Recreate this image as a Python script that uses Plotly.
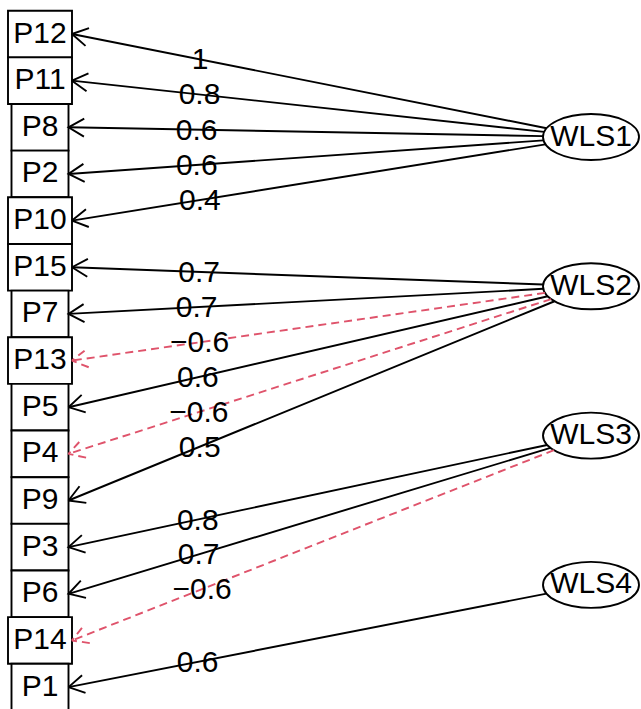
import numpy as np
import plotly.graph_objects as go

# ---- data ----
variables = ["P12", "P11", "P8", "P2", "P10", "P15", "P7", "P13", "P5", "P4",
             "P9", "P3", "P6", "P14", "P1"]
factors = ["WLS1", "WLS2", "WLS3", "WLS4"]
var_factor = [0, 0, 0, 0, 0, 1, 1, 1, 1, 1, 1, 2, 2, 2, 3]
loadings = [1, 0.8, 0.6, 0.6, 0.4, 0.7, 0.7, -0.6, 0.6, -0.6, 0.5, 0.8, 0.7, -0.6, 0.6]

# ---- layout constants ----
W, H = 641, 709
VX, VY0, VDY = 40.0, 34.0, 46.65
FX, FY0, FDY, RX, RY = 591.0, 137.0, 149.3, 48.0, 23.0
FONT = "Liberation Sans, Arial, sans-serif"
FS = 30
POS_COL, NEG_COL = "black", "#DF536B"
LW = 1.9
HEAD_LEN, HEAD_ANG = 18.0, np.radians(30)
LABEL_FRAC = 0.27
LABEL_DY = 2.5
TEXT_DY = 1.0

fig = go.Figure()
shapes = []

var_y = [VY0 + i * VDY for i in range(len(variables))]
fac_y = [FY0 + j * FDY for j in range(len(factors))]

# boxes
for name, y in zip(variables, var_y):
    w = 43 + 7 * len(name)
    shapes.append(dict(type="rect", xref="x", yref="y",
                       x0=VX - w / 2, x1=VX + w / 2, y0=y - VDY / 2, y1=y + VDY / 2,
                       line=dict(color="black", width=LW), fillcolor="white", layer="below"))

# ellipses
for name, y in zip(factors, fac_y):
    shapes.append(dict(type="circle", xref="x", yref="y",
                       x0=FX - RX, x1=FX + RX, y0=y - RY, y1=y + RY,
                       line=dict(color="black", width=LW), fillcolor="white", layer="below"))

lab_x, lab_y, lab_t = [], [], []
for name, y, f, l in zip(variables, var_y, var_factor, loadings):
    w = 43 + 7 * len(name)
    tip = np.array([VX + w / 2, y])
    c = np.array([FX, fac_y[f]])
    d = tip - c
    t = 1.0 / np.sqrt((d[0] / RX) ** 2 + (d[1] / RY) ** 2)
    start = c + t * d
    col = POS_COL if l > 0 else NEG_COL
    dash = "solid" if l > 0 else "8px,5px"
    u = (start - tip) / np.linalg.norm(start - tip)
    barbs = []
    for s in (1, -1):
        a = s * HEAD_ANG
        r = np.array([u[0] * np.cos(a) - u[1] * np.sin(a), u[0] * np.sin(a) + u[1] * np.cos(a)])
        barbs.append(tip + HEAD_LEN * r)
    xs = [start[0], tip[0], None, barbs[0][0], tip[0], barbs[1][0]]
    ys = [start[1], tip[1], None, barbs[0][1], tip[1], barbs[1][1]]
    fig.add_trace(go.Scatter(x=xs, y=ys, mode="lines",
                             line=dict(color=col, width=LW, dash=dash),
                             hoverinfo="skip"))
    p = tip + LABEL_FRAC * (start - tip)
    lab_x.append(p[0]); lab_y.append(p[1] + LABEL_DY)
    lab_t.append(f"{l:g}".replace("-", "\u2212"))

fig.add_trace(go.Scatter(x=lab_x, y=lab_y, mode="text", text=lab_t,
                         textposition="middle center",
                         textfont=dict(family=FONT, size=FS, color="black"),
                         hoverinfo="skip"))
fig.add_trace(go.Scatter(x=[VX] * len(variables), y=[v + TEXT_DY for v in var_y],
                         mode="text", text=variables, textposition="middle center",
                         textfont=dict(family=FONT, size=FS, color="black"),
                         hoverinfo="skip"))
fig.add_trace(go.Scatter(x=[FX] * len(factors), y=[v + TEXT_DY for v in fac_y],
                         mode="text", text=factors, textposition="middle center",
                         textfont=dict(family=FONT, size=FS, color="black"),
                         hoverinfo="skip"))

fig.update_layout(width=W, height=H, margin=dict(l=0, r=0, t=0, b=0),
                  plot_bgcolor="white", paper_bgcolor="white", showlegend=False,
                  shapes=shapes,
                  xaxis=dict(range=[0, W], visible=False, fixedrange=True),
                  yaxis=dict(range=[H, 0], visible=False, fixedrange=True))
fig.write_html("out.html", config={"displayModeBar": False},
               post_script="document.body.style.margin='0';document.body.style.overflow='hidden';")
